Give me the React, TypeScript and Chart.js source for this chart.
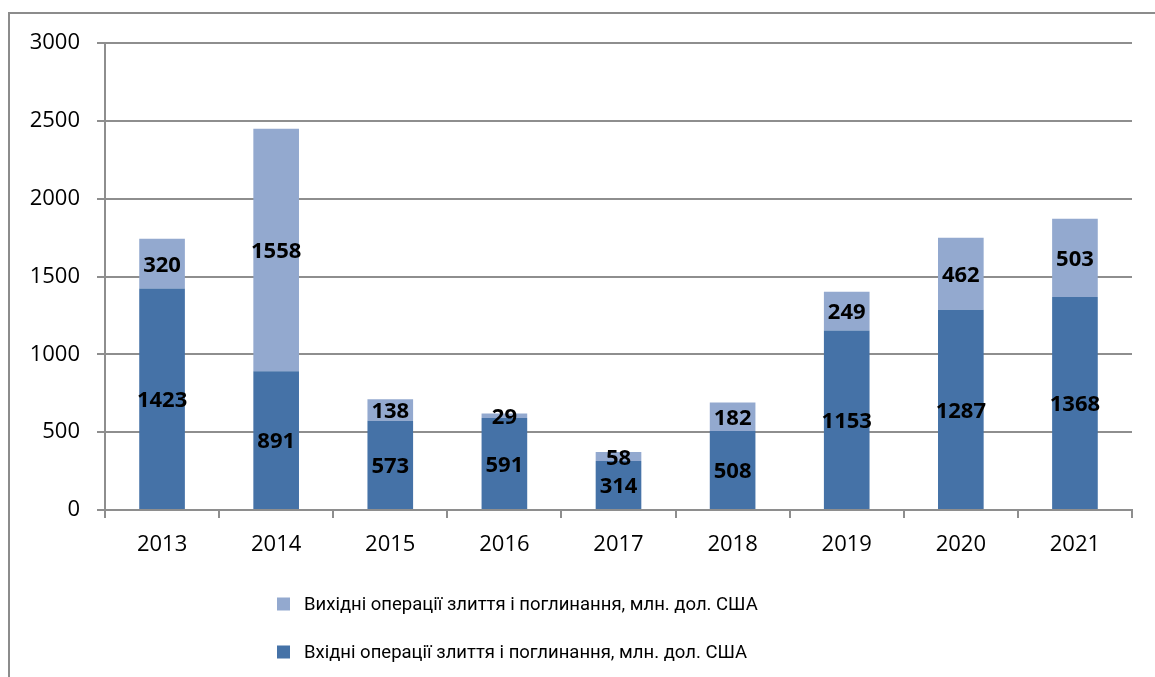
import React, { useEffect, useRef } from "react";
import { Chart, registerables } from "chart.js";

Chart.register(...registerables);

const years = ["2013", "2014", "2015", "2016", "2017", "2018", "2019", "2020", "2021"];
const inbound = [1423, 891, 573, 591, 314, 508, 1153, 1287, 1368];
const outbound = [320, 1558, 138, 29, 58, 182, 249, 462, 503];
const yTicks = [0, 500, 1000, 1500, 2000, 2500, 3000];
const inboundLabel = "Вхідні операції злиття і поглинання, млн. дол. США";
const outboundLabel = "Вихідні операції злиття і поглинання, млн. дол. США";

const DARK = "#4572a7";
const LIGHT = "#93a9cf";
const GRID = "#8e8e8e";
const FONT = "'Open Sans', 'Noto Sans', sans-serif";
const LEGEND_FONT = "Roboto, 'Open Sans', sans-serif";

const valueLabels = {
  id: "valueLabels",
  afterDatasetsDraw(chart: any) {
    const ctx = chart.ctx;
    ctx.save();
    ctx.font = `bold 22px ${FONT}`;
    ctx.fillStyle = "#000";
    ctx.textAlign = "center";
    ctx.textBaseline = "middle";
    chart.data.datasets.forEach((ds: any, di: number) => {
      const meta = chart.getDatasetMeta(di);
      meta.data.forEach((el: any, i: number) => {
        const { x, y, base } = el.getProps(["x", "y", "base"], true);
        ctx.fillText(String(ds.data[i]), x, (y + base) / 2 + 2);
      });
    });
    ctx.restore();
  },
};

const customLegend = {
  id: "customLegend",
  afterDraw(chart: any) {
    const ctx = chart.ctx;
    const items = [...chart.data.datasets].reverse();
    ctx.save();
    ctx.font = `18.5px ${LEGEND_FONT}`;
    ctx.textBaseline = "middle";
    ctx.textAlign = "left";
    const left = 277;
    const rows = [604, 652];
    items.forEach((ds: any, i: number) => {
      const cy = rows[i];
      ctx.fillStyle = ds.backgroundColor;
      ctx.fillRect(left, cy - 6.5, 13, 13);
      ctx.fillStyle = "#000";
      ctx.fillText(ds.label, left + 27, cy + 1);
    });
    ctx.restore();
  },
};

export default function App() {
  const ref = useRef<HTMLCanvasElement>(null);
  useEffect(() => {
    document.body.style.overflow = "hidden";
    const chart = new Chart(ref.current!, {
      type: "bar",
      data: {
        labels: years,
        datasets: [
          { label: inboundLabel, data: inbound, backgroundColor: DARK, barPercentage: 0.4, categoryPercentage: 1 },
          { label: outboundLabel, data: outbound, backgroundColor: LIGHT, barPercentage: 0.4, categoryPercentage: 1 },
        ],
      },
      options: {
        responsive: false,
        animation: false,
        devicePixelRatio: 1,
        layout: { padding: { top: 43, right: 23, bottom: 117, left: 0 } },
        plugins: { legend: { display: false }, tooltip: { enabled: false } },
        scales: {
          x: {
            stacked: true,
            offset: true,
            afterFit: (s: any) => { s.height = 50; },
            grid: { drawOnChartArea: false, drawTicks: true, tickLength: 8, color: GRID, lineWidth: 2, offset: true },
            border: { color: GRID, width: 2 },
            ticks: { color: "#000", font: { family: FONT, size: 22 }, padding: 14 },
          },
          y: {
            stacked: true,
            min: 0,
            max: 3000,
            afterFit: (s: any) => { s.width = 105; },
            afterBuildTicks: (s: any) => { s.ticks = yTicks.map((v) => ({ value: v })); },
            grid: { color: GRID, lineWidth: 2, tickLength: 8 },
            border: { color: GRID, width: 2 },
            ticks: {
              color: "#000",
              font: { family: FONT, size: 22 },
              padding: 17,
              callback: (v: any) => String(v),
            },
          },
        },
      },
      plugins: [valueLabels, customLegend],
    });
    return () => chart.destroy();
  }, []);
  return (
    <div>
      <div
        style={{
          position: "fixed",
          left: 8,
          top: 12,
          width: 1200,
          height: 700,
          border: "2px solid #8c8c8c",
          boxSizing: "border-box",
        }}
      />
      <canvas
        ref={ref}
        width={1155}
        height={677}
        style={{ position: "fixed", left: 0, top: 0, width: 1155, height: 677, display: "block" }}
      />
    </div>
  );
}
